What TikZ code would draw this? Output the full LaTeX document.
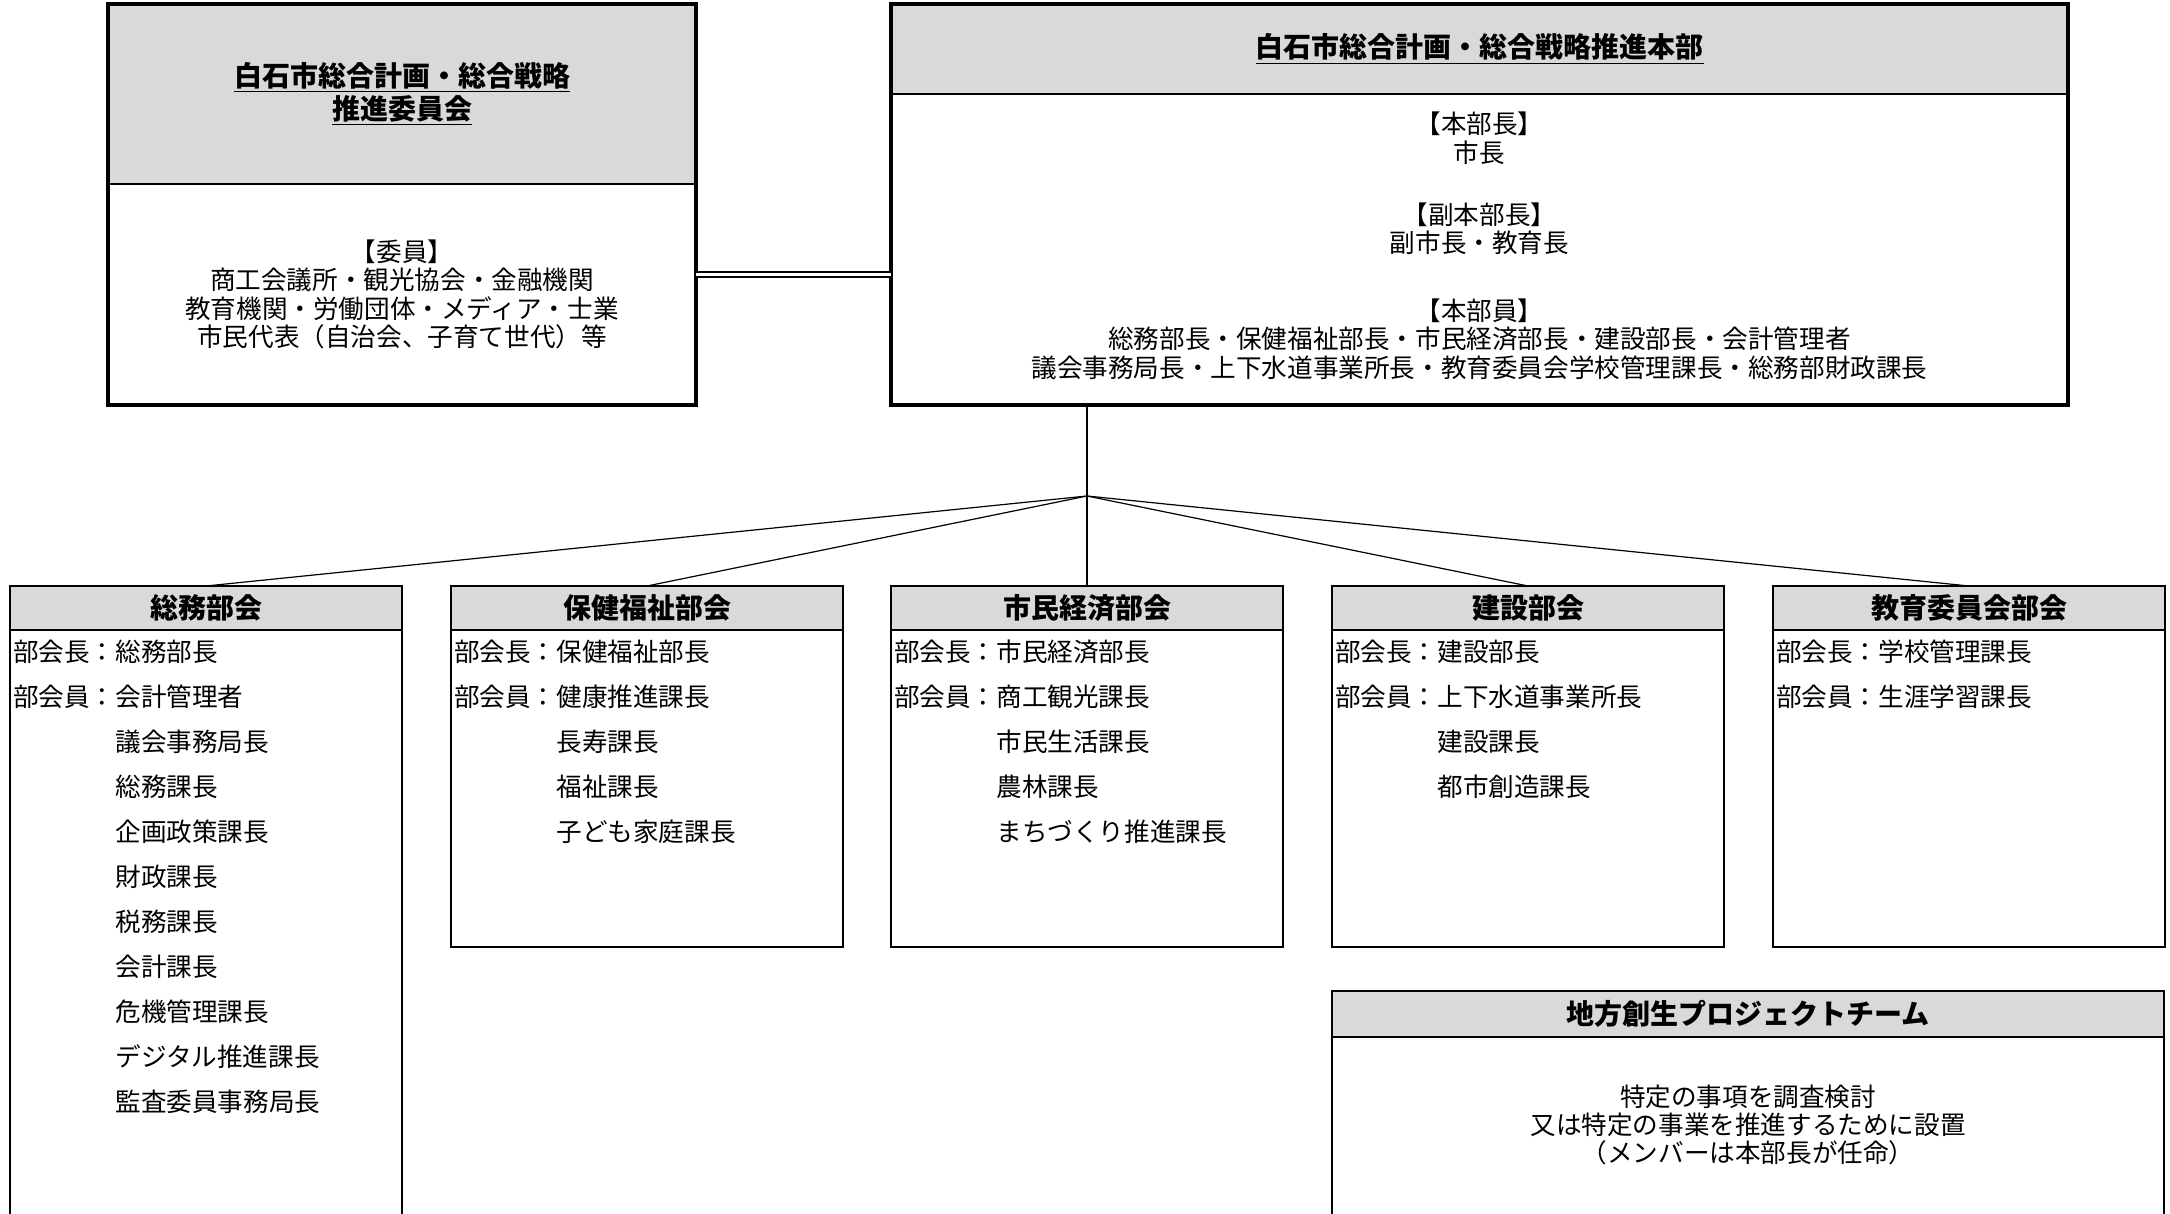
\documentclass[tikz,border=0pt]{standalone}
\usepackage{fontspec}
\setmainfont{Noto Sans CJK JP}
\usetikzlibrary{positioning}
\definecolor{hdrgray}{RGB}{217,217,217}
\tikzset{
	headbox/.style = {
		shape=rectangle,
		draw,
		fill=hdrgray,
		line width=1.1pt,
		anchor=north west,
		minimum width=196pt,
		minimum height=22pt,
		inner sep=0pt,
		outer sep=0pt,
		font=\fontsize{14}{15}\selectfont\bfseries
	},
	bodybox/.style = {
		shape=rectangle,
		draw,
		line width=1.1pt,
		minimum width=196pt,
		minimum height=158.5pt,
		inner sep=0pt,
		outer sep=0pt
	},
	members/.style = {
		inner sep=0pt,
		outer sep=0pt,
		font=\fontsize{12.8}{22.5}\selectfont
	},
	bighead/.style = {
		shape=rectangle,
		draw,
		fill=hdrgray,
		line width=1pt,
		align=center,
		anchor=north west,
		inner sep=0pt,
		outer sep=0pt,
		font=\fontsize{14}{15}\selectfont\bfseries
	},
	bigbody/.style = {
		shape=rectangle,
		draw,
		line width=1pt,
		align=center,
		inner sep=0pt,
		outer sep=0pt,
		font=\fontsize{12.8}{14.2}\selectfont
	},
	note/.style = {
		align=center,
		inner sep=0pt,
		font=\fontsize{12.8}{14}\selectfont
	},
	bigframe/.style = {line width=1.8pt},
	stemline/.style = {line width=1pt},
	fanline/.style = {line width=0.6pt},
	dblline/.style = {double, double distance=1.6pt, line width=0.75pt}
}

\begin{document}
\begin{tikzpicture}[x=0.5pt, y=-0.5pt]
	\useasboundingbox (0,0) rectangle (2170,1214);

	% committee and headquarters
	\node[bighead, minimum width=294pt, minimum height=90pt] (iinkai-head) at (108,4)
		{\underline{白石市総合計画・総合戦略}\\ \underline{推進委員会}};
	\node[bigbody, below=0pt of iinkai-head, minimum width=294pt, minimum height=110.5pt] (iinkai-body)
		{【委員】\\商工会議所・観光協会・金融機関\\教育機関・労働団体・メディア・士業\\市民代表（自治会、子育て世代）等};
	\draw[bigframe] (iinkai-head.north west) rectangle (iinkai-body.south east);

	\node[bighead, minimum width=588.5pt, minimum height=45pt] (honbu-head) at (891,4)
		{\underline{白石市総合計画・総合戦略推進本部}};
	\node[bigbody, below=0pt of honbu-head, minimum width=588.5pt, minimum height=155.5pt, text depth=5pt] (honbu-body)
		{【本部長】\\市長\\[17pt]【副本部長】\\副市長・教育長\\[19.5pt]【本部員】\\総務部長・保健福祉部長・市民経済部長・建設部長・会計管理者\\議会事務局長・上下水道事業所長・教育委員会学校管理課長・総務部財政課長};
	\draw[bigframe] (honbu-head.north west) rectangle (honbu-body.south east);

	\draw[dblline] ([yshift=10pt]iinkai-body.east) -- ([yshift=10pt]iinkai-body.east -| honbu-body.west);

	% sections
	\node[headbox] (somu-head) at (10,586) {総務部会};
	\node[bodybox, below=0pt of somu-head, minimum height=320pt] (somu-body) {};
	\node[members, below right=0pt and 1.5pt of somu-body.north west] (somu-list) {%
		\begin{tabular}{@{}l@{}l@{}}
			部会長：&総務部長\\
			部会員：&会計管理者\\
			&議会事務局長\\
			&総務課長\\
			&企画政策課長\\
			&財政課長\\
			&税務課長\\
			&会計課長\\
			&危機管理課長\\
			&デジタル推進課長\\
			&監査委員事務局長
		\end{tabular}};

	\node[headbox] (hoken-head) at (451,586) {保健福祉部会};
	\node[bodybox, below=0pt of hoken-head] (hoken-body) {};
	\node[members, below right=0pt and 1.5pt of hoken-body.north west] (hoken-list) {%
		\begin{tabular}{@{}l@{}l@{}}
			部会長：&保健福祉部長\\
			部会員：&健康推進課長\\
			&長寿課長\\
			&福祉課長\\
			&子ども家庭課長
		\end{tabular}};

	\node[headbox] (shimin-head) at (891,586) {市民経済部会};
	\node[bodybox, below=0pt of shimin-head] (shimin-body) {};
	\node[members, below right=0pt and 1.5pt of shimin-body.north west] (shimin-list) {%
		\begin{tabular}{@{}l@{}l@{}}
			部会長：&市民経済部長\\
			部会員：&商工観光課長\\
			&市民生活課長\\
			&農林課長\\
			&まちづくり推進課長
		\end{tabular}};

	\node[headbox] (kensetsu-head) at (1332,586) {建設部会};
	\node[bodybox, below=0pt of kensetsu-head] (kensetsu-body) {};
	\node[members, below right=0pt and 1.5pt of kensetsu-body.north west] (kensetsu-list) {%
		\begin{tabular}{@{}l@{}l@{}}
			部会長：&建設部長\\
			部会員：&上下水道事業所長\\
			&建設課長\\
			&都市創造課長
		\end{tabular}};

	\node[headbox] (kyoiku-head) at (1773,586) {教育委員会部会};
	\node[bodybox, below=0pt of kyoiku-head] (kyoiku-body) {};
	\node[members, below right=0pt and 1.5pt of kyoiku-body.north west] (kyoiku-list) {%
		\begin{tabular}{@{}l@{}l@{}}
			部会長：&学校管理課長\\
			部会員：&生涯学習課長
		\end{tabular}};

	% project team
	\node[headbox, minimum width=416pt, minimum height=23pt] (team-head) at (1332,991) {地方創生プロジェクトチーム};
	\node[bodybox, below=0pt of team-head, minimum width=416pt, minimum height=110pt] (team-body) {};
	\node[note, below=44pt of team-head.south, anchor=center] (team-note)
		{特定の事項を調査検討\\又は特定の事業を推進するために設置\\（メンバーは本部長が任命）};

	% connectors
	\coordinate (hub) at (1087,496);
	\draw[stemline] (hub |- honbu-body.south) -- (hub);
	\foreach \sect in {somu,hoken,shimin,kensetsu,kyoiku}
		\draw[fanline] (hub) -- (\sect-head.north);
\end{tikzpicture}
\end{document}
